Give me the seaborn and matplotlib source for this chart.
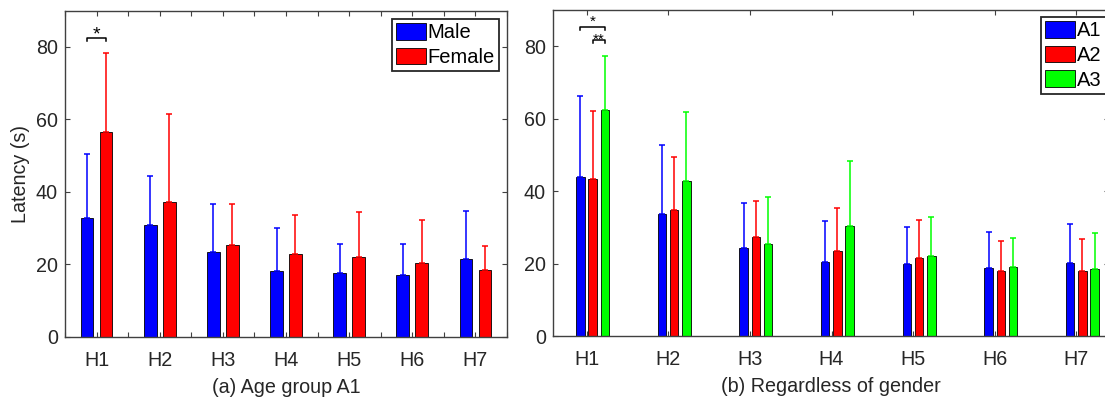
import numpy as np
import pandas as pd
import matplotlib
matplotlib.use("Agg")
import matplotlib.pyplot as plt
from matplotlib.ticker import MultipleLocator
import seaborn as sns

# values
cats = ["H1", "H2", "H3", "H4", "H5", "H6", "H7"]

male_mean = [32.8, 30.8, 23.3, 18.2, 17.7, 17.1, 21.4]
male_sd = [17.6, 13.6, 13.4, 11.7, 7.9, 8.5, 13.4]
female_mean = [56.6, 37.3, 25.2, 22.7, 22.1, 20.3, 18.4]
female_sd = [21.7, 24.3, 11.4, 10.9, 12.4, 11.8, 6.7]

a1_mean = [43.8, 33.8, 24.3, 20.3, 19.9, 18.8, 20.1]
a1_sd = [22.5, 19.0, 12.3, 11.4, 10.1, 10.0, 10.8]
a2_mean = [43.3, 34.9, 27.3, 23.5, 21.6, 18.0, 18.0]
a2_sd = [18.8, 14.4, 10.1, 11.8, 10.3, 8.1, 8.9]
a3_mean = [62.3, 42.9, 25.4, 30.4, 22.0, 19.0, 18.5]
a3_sd = [15.1, 18.9, 13.1, 18.0, 10.9, 8.1, 9.8]

gender_groups = ["Male", "Female"]
age_groups = ["A1", "A2", "A3"]
gender_colors = ["#0000ff", "#ff0000"]
age_colors = ["#0000ff", "#ff0000", "#00ff00"]

plt.rcParams['font.family'] = ['Liberation Sans', 'DejaVu Sans']
plt.rcParams['axes.edgecolor'] = '#404040'
plt.rcParams['xtick.color'] = '#404040'
plt.rcParams['ytick.color'] = '#404040'
plt.rcParams['xtick.labelcolor'] = '#262626'
plt.rcParams['ytick.labelcolor'] = '#262626'

FS = 14.2


def long_df(groups, means):
    rows = []
    for g, m in zip(groups, means):
        for c, v in zip(cats, m):
            rows.append({"cond": c, "group": g, "latency": v})
    return pd.DataFrame(rows)


def draw_panel(ax, groups, means, sds, colors, width, gap):
    df = long_df(groups, means)
    sns.barplot(data=df, x="cond", y="latency", hue="group", order=cats,
                hue_order=groups, palette=colors, width=width, gap=gap,
                errorbar=None, edgecolor="black", linewidth=0.6,
                saturation=1, ax=ax)
    centers = []
    for cont, m, s, col in zip(ax.containers, means, sds, colors):
        xs = [p.get_x() + p.get_width() / 2 for p in cont]
        centers.append(xs)
        ax.errorbar(xs, m, yerr=[np.zeros(len(s)), s], fmt="none",
                    ecolor=col, elinewidth=1.1, capsize=2.2, capthick=1.1,
                    zorder=3)
    ax.set_ylim(0, 90)
    ax.set_yticks([0, 20, 40, 60, 80])
    ax.tick_params(which="both", direction="in", top=True, right=True,
                   length=3.6, width=0.8, labelsize=FS)
    ax.tick_params(axis="x", pad=10)
    ax.tick_params(axis="y", pad=5)
    for sp in ax.spines.values():
        sp.set_linewidth(1.0)
    return centers


def add_legend(ax, anchor):
    h, l = ax.get_legend_handles_labels()
    leg = ax.legend(h, l, loc="upper right", bbox_to_anchor=anchor,
                    borderaxespad=0, fontsize=14.5, frameon=True,
                    fancybox=False, framealpha=1, edgecolor="#262626",
                    handlelength=1.5, handleheight=0.88, handletextpad=0.1,
                    labelspacing=0.27, borderpad=0.2)
    leg.get_frame().set_linewidth(1.3)


def bracket(ax, x0, x1, y, label, ty, fs=14, drop=0.9):
    ax.plot([x0, x0, x1, x1], [y - drop, y, y, y - drop], color="black",
            lw=1.1, zorder=4)
    ax.text((x0 + x1) / 2, ty, label, ha="center", va="baseline",
            fontsize=fs, color="black")


fig = plt.figure(figsize=(11.05, 4.0), dpi=100)
ax1 = fig.add_axes([65 / 1105, 63.3 / 400, 442 / 1105, 326 / 400])
ax2 = fig.add_axes([552.7 / 1105, 64 / 400, 556 / 1105, 326 / 400])

# (a) age group A1, by gender
c1 = draw_panel(ax1, gender_groups, [male_mean, female_mean],
                [male_sd, female_sd], gender_colors, 0.6, 0.333)
ax1.set_xlim(-0.5, 6.5)
ax1.xaxis.set_minor_locator(MultipleLocator(0.5))
ax1.set_xlabel("(a) Age group A1", fontsize=FS, labelpad=6, color="#262626")
ax1.set_ylabel("Latency (s)", fontsize=FS, labelpad=4, color="#262626")
add_legend(ax1, (0.982, 0.974))
bracket(ax1, c1[0][0], c1[1][0], 82.5, "*", 82.0)

# (b) all participants, by age group
c2 = draw_panel(ax2, age_groups, [a1_mean, a2_mean, a3_mean],
                [a1_sd, a2_sd, a3_sd], age_colors, 0.45, 0.31)
shift = 0.073
ax2.set_xticks(np.arange(len(cats)) - shift)
ax2.set_xticklabels(cats)
ax2.set_xlim(-0.415 - shift, 6.395 - shift)
ax2.set_xlabel("(b) Regardless of gender", fontsize=FS, labelpad=6,
               color="#262626")
ax2.set_ylabel("")
add_legend(ax2, (0.995, 0.978))
# stacked stars sit close together, as in the reference; smaller font keeps
# their text boxes apart
bracket(ax2, c2[0][0], c2[2][0], 85.3, "*", 85.6, fs=11)
bracket(ax2, c2[1][0], c2[2][0], 81.7, "**", 80.6, fs=11)

fig.savefig("out.png", dpi=100)
